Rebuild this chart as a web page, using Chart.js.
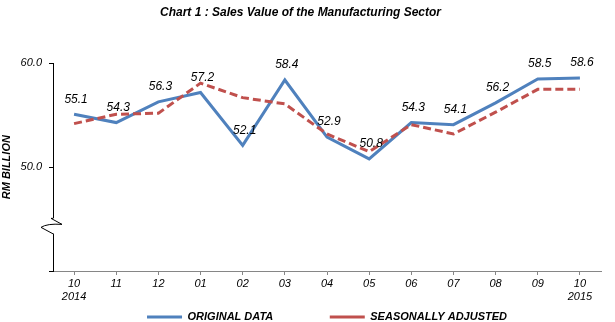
<!DOCTYPE html>
<html>
<head>
<meta charset="utf-8">
<script src="https://cdn.jsdelivr.net/npm/chart.js@4/dist/chart.umd.min.js"></script>
<style>
  body { margin: 0; background: #fff; }
  #wrap { width: 615px; height: 322px; }
</style>
</head>
<body>
<div id="wrap"><canvas id="salesChart"></canvas></div>
<script>
// Данные графика
const months = [['10', '2014'], '11', '12', '01', '02', '03', '04', '05', '06', '07', '08', '09', ['10', '2015']];
const originalData = [55.1, 54.3, 56.3, 57.2, 52.1, 58.4, 52.9, 50.8, 54.3, 54.1, 56.2, 58.5, 58.6];
const seasonallyAdjusted = [54.2, 55.1, 55.2, 58.1, 56.7, 56.1, 53.2, 51.5, 54.1, 53.2, 55.3, 57.5, 57.5];
const yTicks = [40, 50, 60];

const FONT = "'Liberation Sans', Arial, sans-serif";

// Подписи значений над исходной линией
const valueLabels = {
    id: 'valueLabels',
    afterDatasetsDraw(chart) {
        const meta = chart.getDatasetMeta(0);
        const ctx = chart.ctx;
        ctx.save();
        ctx.font = 'italic 12px ' + FONT;
        ctx.fillStyle = '#000';
        ctx.textAlign = 'center';
        ctx.textBaseline = 'middle';
        meta.data.forEach((pt, i) => {
            ctx.fillText(originalData[i].toFixed(1), pt.x + 2, pt.y - 15);
        });
        ctx.restore();
    }
};

// Разрыв оси Y (зигзаг)
const axisBreak = {
    id: 'axisBreak',
    afterDraw(chart) {
        const y = chart.scales.y;
        const ctx = chart.ctx;
        const cy = y.getPixelForValue(44.3);
        const ax = y.right;
        ctx.save();
        ctx.fillStyle = '#fff';
        ctx.fillRect(ax - 2, cy - 8, 4, 16);
        ctx.strokeStyle = '#000';
        ctx.lineWidth = 1;
        ctx.beginPath();
        ctx.moveTo(ax, cy - 8);
        ctx.lineTo(ax - 2, cy - 8);
        ctx.lineTo(ax + 9, cy - 2);
        ctx.quadraticCurveTo(ax - 6, cy - 3, ax - 12, cy + 1);
        ctx.lineTo(ax + 1, cy + 8);
        ctx.lineTo(ax, cy + 8);
        ctx.stroke();
        ctx.restore();
    }
};

new Chart(document.getElementById('salesChart'), {
    type: 'line',
    data: {
        labels: months,
        datasets: [{
            label: 'ORIGINAL DATA',
            data: originalData,
            borderColor: '#4F81BD',
            backgroundColor: '#4F81BD',
            borderWidth: 3,
            pointRadius: 0,
            tension: 0,
            order: 1
        }, {
            label: 'SEASONALLY ADJUSTED',
            data: seasonallyAdjusted,
            borderColor: '#C0504D',
            backgroundColor: '#C0504D',
            borderWidth: 3,
            borderDash: [8, 4],
            pointRadius: 0,
            tension: 0,
            order: 0
        }]
    },
    options: {
        responsive: true,
        maintainAspectRatio: false,
        animation: false,
        layout: { padding: { left: 0, right: 14, bottom: -10.5 } },
        plugins: {
            title: {
                display: true,
                text: 'Chart 1 : Sales Value of the Manufacturing Sector',
                color: '#000',
                font: { family: FONT, size: 12, weight: 'bold', style: 'italic' },
                padding: { top: 5, bottom: 44 }
            },
            legend: {
                position: 'bottom',
                fullSize: false,
                labels: {
                    usePointStyle: true,
                    pointStyle: 'line',
                    pointStyleWidth: 35,
                    color: '#000',
                    padding: 8,
                    font: { family: FONT, size: 11, weight: 'bold', style: 'italic' },
                    generateLabels(chart) {
                        const items = Chart.defaults.plugins.legend.labels.generateLabels(chart)
                            .sort((a, b) => a.datasetIndex - b.datasetIndex);
                        // пустой элемент — промежуток между пунктами легенды
                        const spacer = {
                            text: '',
                            fillStyle: 'rgba(0,0,0,0)',
                            strokeStyle: 'rgba(0,0,0,0)',
                            lineWidth: 0,
                            pointStyle: 'line',
                            hidden: false,
                            datasetIndex: -1
                        };
                        return [items[0], spacer, items[1]];
                    }
                }
            },
            tooltip: { enabled: false }
        },
        scales: {
            x: {
                offset: true,
                afterFit(scale) { scale.height = 32.5; },
                border: { color: '#868686', width: 1 },
                grid: { offset: false, drawOnChartArea: false, drawTicks: true, tickLength: 4, color: '#868686' },
                ticks: {
                    color: '#000',
                    maxRotation: 0,
                    autoSkip: false,
                    padding: 2,
                    font: { family: FONT, size: 11, style: 'italic', lineHeight: 1.2 }
                }
            },
            y: {
                min: 40,
                max: 60,
                afterBuildTicks(scale) {
                    scale.ticks = yTicks.map(v => ({ value: v }));
                },
                afterFit(scale) { scale.width = 53; },
                border: { color: '#000', width: 1 },
                grid: { drawOnChartArea: false, drawTicks: true, tickLength: 4, color: '#000' },
                ticks: {
                    color: '#000',
                    padding: 7,
                    font: { family: FONT, size: 11, style: 'italic' },
                    callback: v => (v === 40 ? '' : v.toFixed(1))
                },
                title: {
                    display: true,
                    text: 'RM BILLION',
                    color: '#000',
                    padding: { top: 0, bottom: 0 },
                    font: { family: FONT, size: 11, weight: 'bold', style: 'italic' }
                }
            }
        }
    },
    plugins: [valueLabels, axisBreak]
});
</script>
</body>
</html>
